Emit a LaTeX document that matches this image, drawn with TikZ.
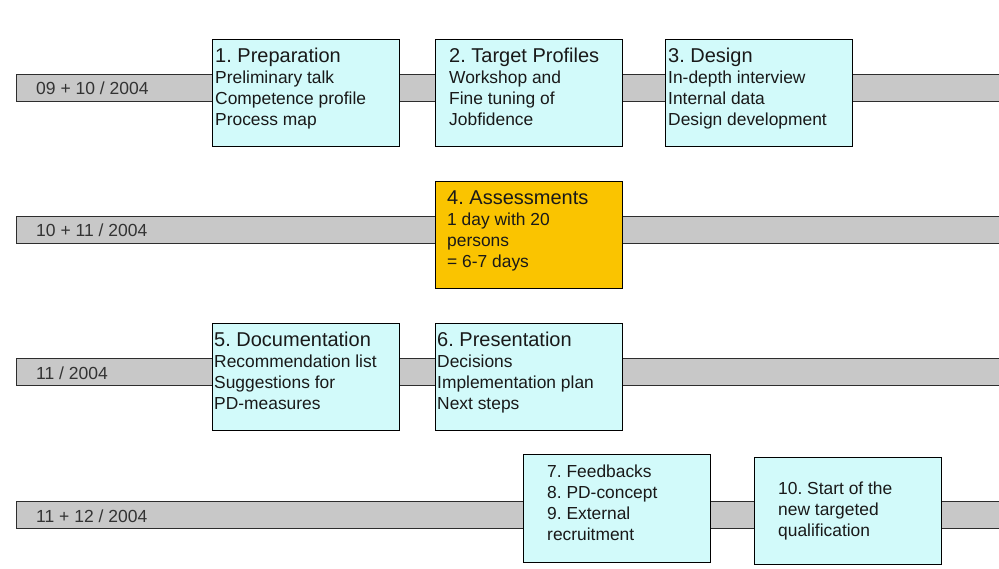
\documentclass[tikz,border=0pt]{standalone}
\usepackage{fontspec}
\setmainfont{Liberation Sans}
\frenchspacing
\definecolor{boxcyan}{RGB}{210,250,250}
\definecolor{boxgold}{RGB}{250,196,0}
\definecolor{barfill}{RGB}{200,200,200}
\definecolor{barline}{RGB}{45,45,45}
\definecolor{inktext}{RGB}{25,25,25}
\begin{document}
\frenchspacing
\begin{tikzpicture}[x=1pt,y=-1pt,
  bar/.style={draw=barline,fill=barfill,line width=1.3pt,anchor=north west,
    minimum width=990pt,minimum height=27pt,inner sep=0pt},
  stage/.style={draw=black,fill=boxcyan,line width=1.3pt,anchor=north west,
    minimum width=187pt,minimum height=107pt,inner sep=0pt},
  stagetext/.style={anchor=north west,align=left,inner sep=0pt,text=inktext,
    font=\fontsize{17.4}{21}\selectfont\frenchspacing},
  datelabel/.style={anchor=base west,inner sep=0pt,text=black!80,
    font=\fontsize{17.5}{21}\selectfont}]
\useasboundingbox (0,0) rectangle (999,569);
\fill[white] (0,0) rectangle (999,569);
\newcommand{\ttl}[1]{{\fontsize{20}{21}\selectfont\rule{0pt}{23pt}#1}}

% time bars
\node[bar] (bar1) at (16,74) {};
\node[bar] (bar2) at (16,216) {};
\node[bar] (bar3) at (16,358) {};
\node[bar] (bar4) at (16,501) {};
\node[datelabel] (d1) at (36,95) {09 + 10 / 2004};
\node[datelabel] (d2) at (36,237) {10 + 11 / 2004};
\node[datelabel] (d3) at (36,379) {11 / 2004};
\node[datelabel] (d4) at (36,522) {11 + 12 / 2004};

% stage boxes
\node[stage] (s1) at (212,39) {};
\node[stage] (s2) at (435,39) {};
\node[stage] (s3) at (665,39) {};
\node[stage,fill=boxgold] (s4) at (435,181) {};
\node[stage] (s5) at (212,323) {};
\node[stage] (s6) at (435,323) {};
\node[stage,minimum height=108pt] (s7) at (523,454) {};
\node[stage] (s10) at (754,457) {};

\node[stagetext] (t1) at (215,39) {\ttl{1. Preparation}\\Preliminary talk\\Competence profile\\Process map};
\node[stagetext] (t2) at (449,39) {\ttl{2. Target Profiles}\\Workshop and\\Fine tuning of\\Jobfidence};
\node[stagetext] (t3) at (668,39) {\ttl{3. Design}\\In-depth interview\\Internal data\\Design development};
\node[stagetext] (t4) at (447,181) {\ttl{4. Assessments}\\1 day with 20\\persons\\= 6-7 days};
\node[stagetext] (t5) at (214,323) {\ttl{5. Documentation}\\Recommendation list\\Suggestions for\\PD-measures};
\node[stagetext] (t6) at (437,323) {\ttl{6. Presentation}\\Decisions\\Implementation plan\\Next steps};
\node[stagetext] (t7) at (547,454) {\rule{0pt}{23pt}7. Feedbacks\\8. PD-concept\\9. External\\recruitment};
\node[stagetext] (t10) at (778,471) {\rule{0pt}{23pt}10. Start of the\\new targeted\\qualification};
\end{tikzpicture}
\end{document}
